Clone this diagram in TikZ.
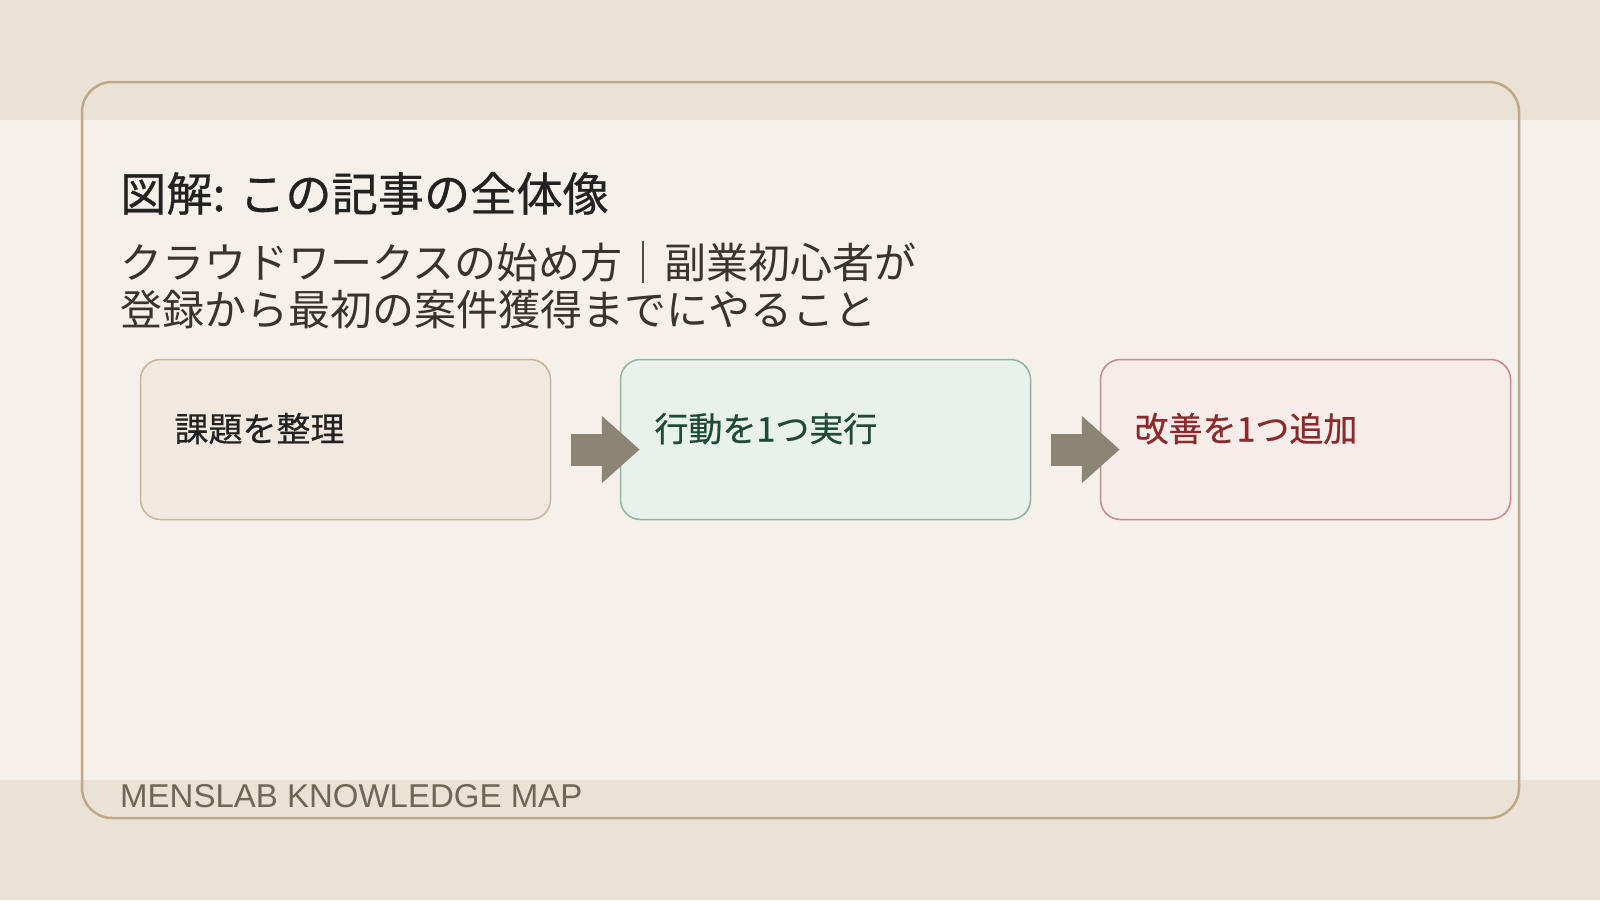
\documentclass[tikz,border=0pt]{standalone}
\usepackage{fontspec}
\setmainfont{Liberation Sans}
\newfontfamily\jpfont{Noto Sans CJK JP}
\newfontfamily\jpmid{Noto Sans CJK JP}[FakeBold=0.6]
\usetikzlibrary{positioning, arrows.meta, calc}

\definecolor{bandtan}{HTML}{EAE2D5}
\definecolor{paper}{HTML}{F5F1EA}
\definecolor{framec}{HTML}{BFA888}
\definecolor{inkdark}{HTML}{222222}
\definecolor{inksub}{HTML}{38332C}
\definecolor{inkfoot}{HTML}{6E6656}
\definecolor{arrowc}{HTML}{8C8475}
\definecolor{fillone}{HTML}{F1E9DF}
\definecolor{lineone}{HTML}{C8B497}
\definecolor{filltwo}{HTML}{E8F1EC}
\definecolor{linetwo}{HTML}{8FB3A0}
\definecolor{textwo}{HTML}{1F4A3A}
\definecolor{fillthree}{HTML}{F6ECEA}
\definecolor{linethree}{HTML}{C9888C}
\definecolor{texthree}{HTML}{8A2A2A}

\begin{document}
\begin{tikzpicture}[x=1pt, y=-1pt, node distance={68.5pt},
    stage/.style = {draw, line width=1.5pt, rounded corners=20pt, minimum width=410pt, minimum height=160pt,
        inner xsep=34pt, text width=342pt, align=left, text height=20pt, text depth=16pt,
        font=\jpmid\fontsize{34}{40}\selectfont},
    flow/.style = {arrowc, line width=32pt, -{Triangle[length=38pt, width=65pt]}}]
    % background bands and frame
    \useasboundingbox (0,0) rectangle (1600,900);
    \fill[bandtan] (0,0) rectangle (1600,900);
    \fill[paper] (0,120) rectangle (1600,780);
    \draw[framec, line width=2.5pt, rounded corners=30pt] (82,82) rectangle (1519,818);
    % titles
    \node[anchor=base west, inner sep=0pt, text=inkdark, font=\jpmid\fontsize{46.2}{54}\selectfont] (title) at (120,211) {図解: この記事の全体像};
    \node[anchor=base west, inner sep=0pt, text=inksub, align=left, font=\jpfont\fontsize{42}{47}\selectfont] (subtitle) at (120,325)
        {クラウドワークスの始め方｜副業初心者が\\登録から最初の案件獲得までにやること};
    % stages
    \node[stage, fill=fillone, draw=lineone, text=inkdark] (b1) at (345.5,439.5) {課題を整理};
    \node[stage, fill=filltwo, draw=linetwo, text=textwo] (b2) [right=of b1] {行動を1つ実行};
    \node[stage, fill=fillthree, draw=linethree, text=texthree] (b3) [right=of b2] {改善を1つ追加};
    \draw[flow] ($(b1.east)+(20,10)$) -- ($(b2.west)+(20,10)$);
    \draw[flow] ($(b2.east)+(20,10)$) -- ($(b3.west)+(20,10)$);
    % footer
    \node[anchor=base west, inner sep=0pt, text=inkfoot, font=\fontsize{33}{40}\selectfont] (foot) at (120,807) {MENSLAB KNOWLEDGE MAP};
\end{tikzpicture}
\end{document}
